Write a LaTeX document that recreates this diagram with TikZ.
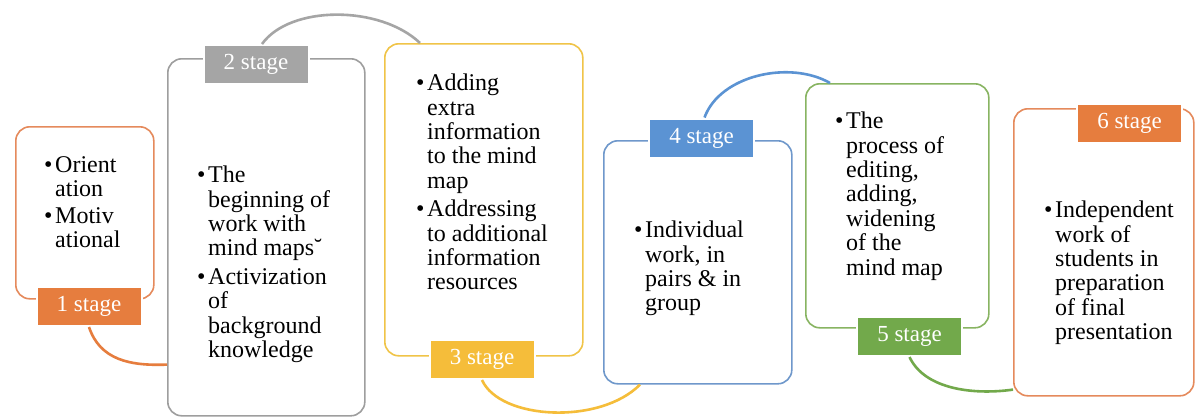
\documentclass[tikz,border=0pt]{standalone}
\usepackage{fontspec}
\setmainfont{Liberation Serif}
\definecolor{cOrange}{HTML}{E67D3E}
\definecolor{cOrangeB}{HTML}{E58A5C}
\definecolor{cGray}{HTML}{A5A5A5}
\definecolor{cGrayB}{HTML}{9E9E9E}
\definecolor{cYellow}{HTML}{F5BD3A}
\definecolor{cYellowB}{HTML}{F0C448}
\definecolor{cBlue}{HTML}{5B93D3}
\definecolor{cBlueB}{HTML}{6F98CB}
\definecolor{cGreen}{HTML}{72A94B}
\definecolor{cGreenB}{HTML}{88B462}
\newcommand\bul{\makebox[11pt][l]{•}}
\newcommand\ind{\hspace*{11pt}}
\begin{document}
\begin{tikzpicture}[x=1pt,y=-1pt,
  stagebox/.style={draw,fill=white,rounded corners=14pt,line width=1.6pt,anchor=north west,inner sep=0pt},
  stagelabel/.style={fill,draw=white,line width=2pt,text=white,minimum width=105pt,minimum height=39pt,inner sep=0pt,font=\fontsize{23}{23}\selectfont},
  boxtext/.style={anchor=north west,align=left,inner sep=0pt,font=\fontsize{24}{24.4}\selectfont},
  arcline/.style={line width=2.6pt}]
\useasboundingbox (0,0) rectangle (1196,416);
\fill[white] (0,0) rectangle (1196,416);
% boxes
\node[stagebox,draw=cOrangeB,minimum width=138pt,minimum height=172pt] (b1) at (15,126) {};
\node[stagebox,draw=cGrayB,minimum width=197pt,minimum height=357pt] (b2) at (167,58) {};
\node[stagebox,draw=cYellowB,minimum width=198pt,minimum height=312pt] (b3) at (384,43) {};
\node[stagebox,draw=cBlueB,minimum width=188pt,minimum height=243pt] (b4) at (603,140) {};
\node[stagebox,draw=cGreenB,minimum width=183pt,minimum height=244pt] (b5) at (805,83) {};
\node[stagebox,draw=cOrangeB,minimum width=180pt,minimum height=287pt] (b6) at (1013,108) {};
% texts
\node[boxtext] (t1) at (44,154) {\bul\rule{0pt}{18pt}Orient\\\ind ation\\[2pt]\bul Motiv\\\ind ational};
\node[boxtext] (t2) at (197,164.4) {\bul\rule{0pt}{18pt}The\\\ind beginning of\\\ind work with\\\ind mind maps˘\\[4pt]\bul Activization\\\ind of\\\ind background\\\ind knowledge};
\node[boxtext] (t3) at (416,72.4) {\bul\rule{0pt}{18pt}Adding\\\ind extra\\\ind information\\\ind to the mind\\\ind map\\[4pt]\bul Addressing\\\ind to additional\\\ind information\\\ind resources};
\node[boxtext] (t4) at (634,219.4) {\bul\rule{0pt}{18pt}Individual\\\ind work, in\\\ind pairs \& in\\\ind group};
\node[boxtext] (t5) at (835,110.4) {\bul\rule{0pt}{18pt}The\\\ind process of\\\ind editing,\\\ind adding,\\\ind widening\\\ind of the\\\ind mind map};
\node[boxtext] (t6) at (1044,199.4) {\bul\rule{0pt}{18pt}Independent\\\ind work of\\\ind students in\\\ind preparation\\\ind of final\\\ind presentation};
% labels
\node[stagelabel,fill=cOrange] (l1) at (89,306.5) {1 stage};
\node[stagelabel,fill=cGray] (l2) at (256,64.5) {2 stage};
\node[stagelabel,fill=cYellow] (l3) at (482,359.5) {3 stage};
\node[stagelabel,fill=cBlue] (l4) at (701.5,138) {4 stage};
\node[stagelabel,fill=cGreen] (l5) at (909.5,336.5) {5 stage};
\node[stagelabel,fill=cOrange] (l6) at (1129.5,123.5) {6 stage};
% arcs
\draw[arcline,cOrange] (l1.south) .. controls (100,360) and (130,366) .. ([yshift=52pt]b2.south west);
\draw[arcline,cGray] ([xshift=6pt]l2.north) .. controls (290,5) and (380,5) .. ([xshift=36pt]b3.north west);
\draw[arcline,cYellow] (l3.south) .. controls (500,420) and (600,425) .. ([xshift=37pt]b4.south west);
\draw[arcline,cBlue] ([xshift=3pt]l4.north) .. controls (720,75) and (790,60) .. ([xshift=25pt]b5.north west);
\draw[arcline,cGreen] (l5.south) .. controls (925,390) and (975,395) .. ([yshift=7pt]b6.south west);
\end{tikzpicture}
\end{document}
